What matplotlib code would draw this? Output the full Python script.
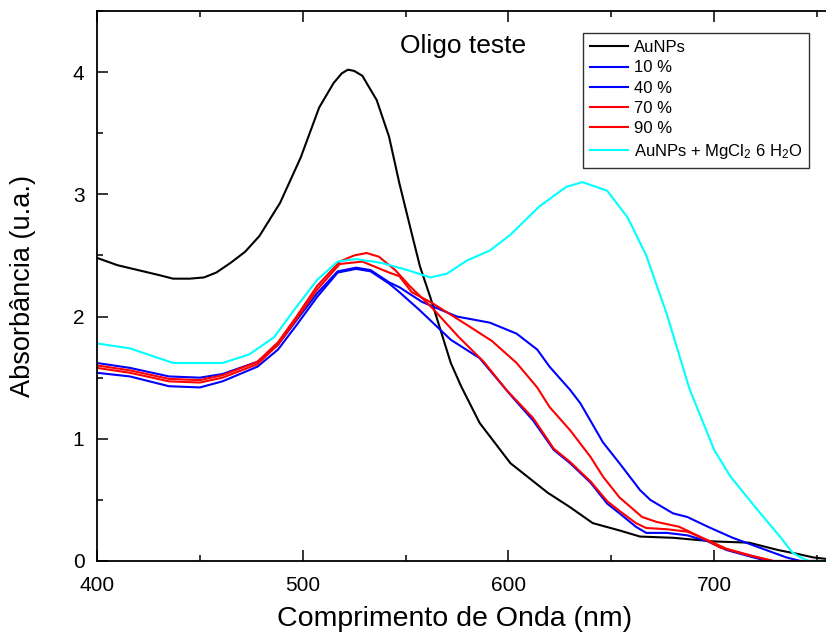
import numpy as np
import matplotlib
matplotlib.use("Agg")
import matplotlib.pyplot as plt
from matplotlib.ticker import MultipleLocator

plt.rcParams["font.family"] = ["Liberation Sans", "DejaVu Sans"]
plt.rcParams["mathtext.fontset"] = "custom"
plt.rcParams["mathtext.rm"] = "Liberation Sans"
plt.rcParams["mathtext.it"] = "Liberation Sans:italic"

# AuNPs (black)
wl_au = [400, 410, 420, 430, 437, 445, 452, 458, 465, 472, 479, 489, 499, 508,
         515, 519, 522, 525, 529, 536, 542, 547, 553, 557, 562, 567, 572, 577,
         586, 601, 619, 630, 641, 654, 664, 680, 700, 717, 731, 740, 748, 758]
abs_au = [2.48, 2.42, 2.38, 2.34, 2.31, 2.31, 2.32, 2.36, 2.44, 2.53, 2.66, 2.93,
          3.30, 3.71, 3.91, 3.99, 4.02, 4.01, 3.97, 3.77, 3.47, 3.09, 2.68, 2.41,
          2.16, 1.89, 1.62, 1.43, 1.13, 0.80, 0.56, 0.44, 0.31, 0.25, 0.20, 0.19,
          0.16, 0.15, 0.09, 0.06, 0.03, 0.01]

# 10 % (blue)
wl_10 = [400, 416, 435, 450, 461, 478, 488, 497, 507, 517, 526, 533, 542, 547,
         557, 572, 586, 599, 602, 612, 622, 630, 640, 648, 654, 662, 667, 677,
         687, 697, 706, 719, 726, 758]
abs_10 = [1.54, 1.51, 1.43, 1.42, 1.47, 1.59, 1.73, 1.93, 2.16, 2.36, 2.39, 2.37,
          2.27, 2.20, 2.05, 1.81, 1.66, 1.40, 1.34, 1.15, 0.91, 0.80, 0.64, 0.47,
          0.39, 0.28, 0.23, 0.23, 0.21, 0.16, 0.09, 0.03, 0.0, 0.0]

# 40 % (blue)
wl_40 = [400, 416, 435, 450, 461, 478, 488, 497, 507, 517, 526, 533, 542, 547,
         558, 575, 591, 604, 614, 620, 630, 635, 646, 654, 664, 669, 680, 687,
         697, 709, 722, 735, 742, 758]
abs_40 = [1.62, 1.58, 1.51, 1.50, 1.53, 1.63, 1.77, 1.97, 2.19, 2.37, 2.40, 2.38,
          2.28, 2.24, 2.12, 2.00, 1.95, 1.86, 1.73, 1.59, 1.40, 1.29, 0.97, 0.80,
          0.58, 0.50, 0.39, 0.36, 0.28, 0.19, 0.11, 0.03, 0.0, 0.0]

# 70 % (red)
wl_70 = [400, 416, 435, 450, 461, 478, 488, 497, 507, 518, 525, 531, 537, 545,
         552, 563, 576, 588, 599, 612, 622, 630, 640, 648, 654, 662, 667, 677,
         687, 697, 706, 719, 728, 758]
abs_70 = [1.60, 1.56, 1.49, 1.48, 1.52, 1.63, 1.79, 2.00, 2.25, 2.45, 2.50, 2.52,
          2.49, 2.38, 2.25, 2.07, 1.83, 1.63, 1.40, 1.17, 0.92, 0.81, 0.65, 0.49,
          0.41, 0.31, 0.27, 0.26, 0.24, 0.17, 0.10, 0.04, 0.0, 0.0]

# 90 % (red)
wl_90 = [400, 416, 435, 450, 461, 478, 488, 497, 507, 518, 529, 542, 547, 553,
         563, 580, 592, 604, 614, 620, 630, 640, 646, 654, 665, 672, 683, 693,
         703, 716, 729, 758]
abs_90 = [1.58, 1.54, 1.47, 1.46, 1.50, 1.61, 1.77, 1.98, 2.22, 2.43, 2.45, 2.36,
          2.33, 2.20, 2.11, 1.93, 1.80, 1.62, 1.42, 1.26, 1.07, 0.85, 0.69, 0.52,
          0.36, 0.32, 0.28, 0.20, 0.11, 0.05, 0.0, 0.0]

# AuNPs + MgCl2 6 H2O (cyan)
wl_mg = [400, 416, 437, 461, 474, 486, 497, 507, 517, 526, 538, 551, 562, 570,
         580, 591, 601, 615, 628, 636, 648, 658, 667, 677, 688, 700, 708, 721,
         732, 738, 742, 746, 758]
abs_mg = [1.78, 1.74, 1.62, 1.62, 1.69, 1.83, 2.08, 2.30, 2.45, 2.47, 2.44, 2.38,
          2.32, 2.35, 2.46, 2.54, 2.67, 2.90, 3.06, 3.10, 3.03, 2.81, 2.50, 2.02,
          1.41, 0.91, 0.69, 0.42, 0.20, 0.07, 0.03, 0.0, 0.0]

series = [
    (wl_au, abs_au, "black", "AuNPs"),
    (wl_10, abs_10, "#0000ff", "10 %"),
    (wl_40, abs_40, "#0000ff", "40 %"),
    (wl_70, abs_70, "#ff0000", "70 %"),
    (wl_90, abs_90, "#ff0000", "90 %"),
    (wl_mg, abs_mg, "#00ffff", "AuNPs + MgCl$_2$ 6 H$_2$O"),
]

fig = plt.figure(figsize=(8.26, 6.38), dpi=100)
# axes run slightly past the right edge, as in the cropped original
ax = fig.add_axes([97 / 826, 77 / 638, 738 / 826, 550 / 638])

for wl, a, c, lab in series:
    ax.plot(wl, a, color=c, lw=1.5, label=lab)

ax.set_xlim(400, 400 + 738 / 2.057)
ax.set_ylim(0, 4.5)
ax.xaxis.set_major_locator(MultipleLocator(100))
ax.xaxis.set_minor_locator(MultipleLocator(50))
ax.yaxis.set_major_locator(MultipleLocator(1))
ax.yaxis.set_minor_locator(MultipleLocator(0.5))
ax.tick_params(which="both", direction="in", top=True, right=False, width=1.1)
ax.tick_params(which="major", length=8)
ax.tick_params(which="minor", length=4)
ax.tick_params(axis="x", labelsize=15, pad=11)
ax.tick_params(axis="y", labelsize=15, pad=9)
for sp in ax.spines.values():
    sp.set_linewidth(1.3)

ax.set_xlabel("Comprimento de Onda (nm)", fontsize=20.5)
ax.set_ylabel("Absorbância (u.a.)", fontsize=19.5)
ax.xaxis.set_label_coords((455 - 97) / 738, -(606 - 561) / 550)
ax.yaxis.set_label_coords(-(97 - 36) / 738, 0.5)

fig.text(463 / 826, 1 - 46 / 638, "Oligo teste", fontsize=19,
         ha="center", va="center")

leg = fig.legend(loc="upper left", bbox_to_anchor=(583 / 826, 1 - 33 / 638),
                 fontsize=12, frameon=True, fancybox=False, borderaxespad=0,
                 handlelength=2.3, handletextpad=0.35, labelspacing=0.32,
                 borderpad=0.42)
leg.get_frame().set_edgecolor("black")
leg.get_frame().set_linewidth(1.0)

fig.savefig("out.png", dpi=100)
